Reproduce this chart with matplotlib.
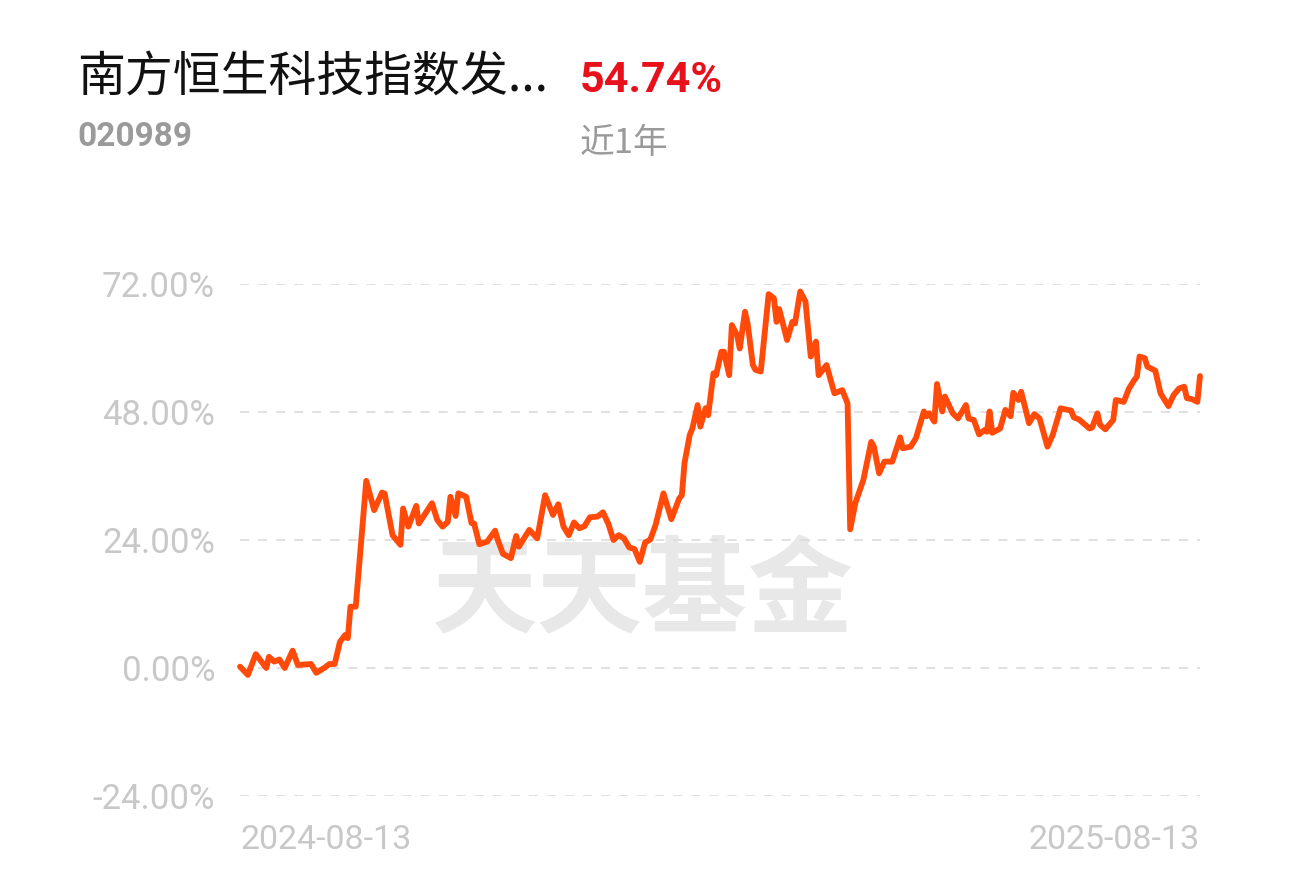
import numpy as np
import pandas as pd
import matplotlib
matplotlib.use('Agg')
import matplotlib.pyplot as plt

plt.rcParams['font.family'] = ['Roboto', 'Noto Sans CJK SC', 'DejaVu Sans']

# fund info
fund_name = '南方恒生科技指数发...'
fund_code = '020989'
period_return = '54.74%'
period_label = '近1年'
watermark = '天天基金'

start_date = '2024-08-13'
end_date = '2025-08-13'

# days after start date
days = [0, 3, 6, 10, 11, 13, 15, 17, 20, 22, 27, 29, 32, 34, 36, 38, 40, 41, 42, 44,
        48, 51, 54, 55, 58, 61, 62, 64, 67, 68, 73, 75, 77, 79, 80, 82, 83, 86, 88, 89,
        91, 94, 97, 98, 100, 103, 105, 106, 110, 113, 116, 119, 121, 123, 125, 127, 129, 131, 133, 136,
        138, 140, 142, 144, 146, 148, 150, 152, 154, 156, 158, 161, 164, 167, 168, 169, 171, 172, 174, 175,
        177, 178, 180, 181, 183, 184, 186, 187, 189, 190, 192, 193, 195, 196, 198, 201, 203, 204, 205, 208,
        210, 211, 213, 215, 217, 219, 220, 223, 226, 229, 231, 232, 234, 237, 240, 241, 243, 245, 248, 251,
        252, 255, 257, 260, 261, 262, 264, 265, 267, 268, 271, 273, 276, 277, 279, 281, 283, 284, 285, 286,
        289, 291, 293, 294, 296, 297, 300, 302, 304, 307, 309, 312, 316, 317, 319, 323, 324, 326, 327, 329,
        332, 333, 336, 338, 340, 341, 342, 344, 345, 348, 350, 353, 355, 357, 359, 360, 362, 364, 365]

# cumulative return in percent
returns = [0.25, -1.3, 2.6, 0.0, 2.1, 1.2, 1.6, 0.0, 3.25, 0.56, 0.75, -0.9, 0.0, 0.75, 0.75, 4.9, 6.2, 5.6, 11.5, 11.5,
           35.1, 29.6, 32.9, 32.7, 24.9, 23.1, 29.9, 26.5, 30.4, 27.1, 30.9, 27.75, 26.5, 27.4, 32.1, 28.5, 32.75, 32.1, 27.2, 27.1,
           23.2, 23.7, 25.75, 24.0, 21.4, 20.6, 24.75, 22.75, 25.9, 24.3, 32.4, 28.7, 30.7, 26.5, 24.9, 27.3, 26.2, 26.6, 28.25, 28.4,
           29.2, 27.1, 24.0, 24.9, 24.3, 22.6, 22.3, 19.9, 23.5, 24.1, 26.8, 32.75, 27.9, 31.8, 32.4, 38.4, 43.7, 44.9, 49.3, 45.25,
           48.7, 47.4, 55.25, 54.9, 59.3, 59.3, 54.9, 64.3, 62.4, 59.9, 66.8, 64.6, 56.8, 55.9, 55.6, 70.1, 69.3, 64.9, 67.3, 61.5,
           64.9, 64.6, 70.6, 68.7, 58.4, 61.2, 54.9, 56.8, 51.5, 52.1, 49.6, 26.0, 31.0, 35.25, 42.4, 41.5, 36.5, 38.7, 38.7, 43.25,
           41.2, 41.5, 43.1, 48.1, 47.2, 47.75, 46.2, 53.25, 48.1, 50.9, 47.75, 46.8, 49.3, 46.8, 46.5, 43.8, 44.6, 44.3, 48.1, 44.1,
           44.9, 48.4, 47.2, 51.6, 50.25, 51.8, 45.9, 47.6, 46.8, 41.5, 43.7, 48.7, 48.25, 47.0, 46.6, 44.9, 45.1, 47.75, 45.6, 44.75,
           46.5, 50.25, 49.9, 52.4, 54.0, 54.6, 58.4, 58.1, 56.5, 55.75, 51.5, 49.1, 51.2, 52.4, 52.75, 50.6, 50.4, 49.9, 54.74]

y_ticks = [-24, 0, 24, 48, 72]

dates = pd.Timestamp(start_date) + pd.to_timedelta(days, unit='D')

fig = plt.figure(figsize=(12.9, 8.88), dpi=100)
ax = fig.add_axes([240 / 1290, 1 - 796 / 888, 960 / 1290, 512 / 888])

ax.text(0.42, 0.395, watermark, transform=ax.transAxes, ha='center', va='center',
        fontsize=76, fontweight='bold', color='#e8e8e8', family=['Noto Sans CJK SC'], zorder=0)

ax.plot(dates, returns, color='#ff4a0a', linewidth=4.2, solid_joinstyle='round',
        solid_capstyle='round', zorder=3, clip_on=False)

ax.set_ylim(-24, 72)
ax.set_xlim(pd.Timestamp(start_date), pd.Timestamp(end_date))
ax.set_yticks(y_ticks)
ax.set_yticklabels(['%.2f%%' % v for v in y_ticks])
for v in y_ticks:
    ax.axhline(v, color='#dedede', linewidth=1.3, linestyle=(0, (5, 5)), zorder=1)

ax.set_xticks([pd.Timestamp(start_date), pd.Timestamp(end_date)])
ax.set_xticklabels([start_date, end_date])
labels = ax.get_xticklabels()
labels[0].set_ha('left')
labels[1].set_ha('right')

ax.tick_params(axis='y', length=0, pad=18, labelsize=25, labelcolor='#c8c8c8')
ax.tick_params(axis='x', length=0, pad=20, labelsize=24.5, labelcolor='#c8c8c8')
for s in ax.spines.values():
    s.set_visible(False)

# header
fig.text(77 / 1290, 1 - 78 / 888, fund_name, ha='left', va='center', fontsize=34.5,
         color='#111111', family=['Noto Sans CJK SC', 'DejaVu Sans'])
fig.text(580 / 1290, 1 - 80 / 888, period_return, ha='left', va='center', fontsize=31,
         color='#e8111b', fontweight='bold')
fig.text(77 / 1290, 1 - 137 / 888, fund_code, ha='left', va='center', fontsize=24,
         color='#9a9a9a', fontweight='bold')
fig.text(580 / 1290, 1 - 143 / 888, period_label, ha='left', va='center', fontsize=25,
         color='#9a9a9a', family=['Noto Sans CJK SC', 'DejaVu Sans'])

plt.savefig('out.png', dpi=100, facecolor='white')
